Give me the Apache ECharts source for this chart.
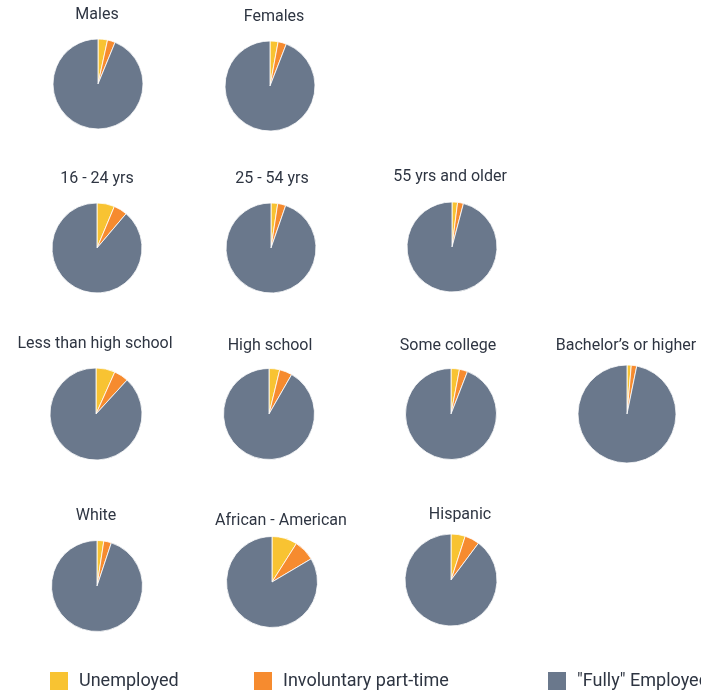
<!DOCTYPE html>
<html>
<head>
<meta charset="utf-8">
<script src="https://cdn.jsdelivr.net/npm/echarts@6/dist/echarts.min.js"></script>
<style>
  html, body { margin: 0; padding: 0; background: #fff; }
  #chart { width: 701px; height: 694px; }
</style>
</head>
<body>
<div id="chart"></div>
<script>
// Labour-force status by group (percent of each group)
const groups = ['Males', 'Females', '16 - 24 yrs', '25 - 54 yrs', '55 yrs and older',
  'Less than high school', 'High school', 'Some college', 'Bachelor’s or higher',
  'White', 'African - American', 'Hispanic'];
const statusNames = ['Unemployed', 'Involuntary part-time', '"Fully" Employed'];
const unemployed  = [3.4, 2.9, 6.3, 2.4, 2.0, 6.7, 3.8, 3.0, 1.4, 2.4, 9.0, 5.0];
const involuntary = [2.8, 3.0, 4.9, 2.9, 2.1, 5.1, 4.5, 2.9, 1.8, 2.7, 7.5, 5.2];
const fully       = [93.8, 94.1, 88.8, 94.7, 95.9, 88.2, 91.7, 94.1, 96.8, 94.9, 83.5, 89.8];

// Placement of each small pie: [centerX, centerY, radius, titleX, titleY]
const layout = [
  [98, 84, 45, 97, 14], [270, 86, 45, 274, 16],
  [97, 248, 45, 97, 178], [271, 248, 45, 272, 178], [452, 247, 45, 450, 176],
  [96, 414, 46, 95, 343], [269, 414, 45.5, 270, 345], [451, 414, 45.5, 448, 345], [627, 414, 49, 626, 345],
  [97, 586, 45.5, 96, 515], [272, 582, 45.5, 281, 520], [451, 580, 46, 460, 514]
];

const colors = ['#F8C332', '#F68B2F', '#6A788C'];
const textColor = '#2E3542';
const font = 'Roboto, "Noto Sans", sans-serif';

const series = groups.map((g, i) => ({
  type: 'pie',
  name: g,
  center: [layout[i][0], layout[i][1]],
  radius: [0, layout[i][2]],
  startAngle: 90,
  clockwise: true,
  silent: true,
  animation: false,
  label: { show: false },
  labelLine: { show: false },
  itemStyle: { borderColor: '#ffffff', borderWidth: 0.8 },
  data: [
    { name: statusNames[0], value: unemployed[i] },
    { name: statusNames[1], value: involuntary[i] },
    { name: statusNames[2], value: fully[i] }
  ]
}));

const titles = groups.map((g, i) => ({
  text: g,
  left: layout[i][3],
  top: layout[i][4] - 7,
  textAlign: 'center',
  padding: 0,
  textStyle: { fontFamily: font, fontSize: 16, fontWeight: 'normal', color: textColor }
}));

const legendX = [48, 252, 546];
const legends = statusNames.map((n, k) => ({
  data: [n],
  left: legendX[k],
  top: 670,
  padding: 0,
  itemWidth: 20,
  itemHeight: 20,
  icon: 'rect',
  selectedMode: false,
  textStyle: { fontFamily: font, fontSize: 18, color: textColor, padding: [16, 0, 0, 5] }
}));

const chart = echarts.init(document.getElementById('chart'), null, { renderer: 'canvas' });
chart.setOption({
  color: colors,
  animation: false,
  title: titles,
  legend: legends,
  series: series
});
</script>
</body>
</html>
